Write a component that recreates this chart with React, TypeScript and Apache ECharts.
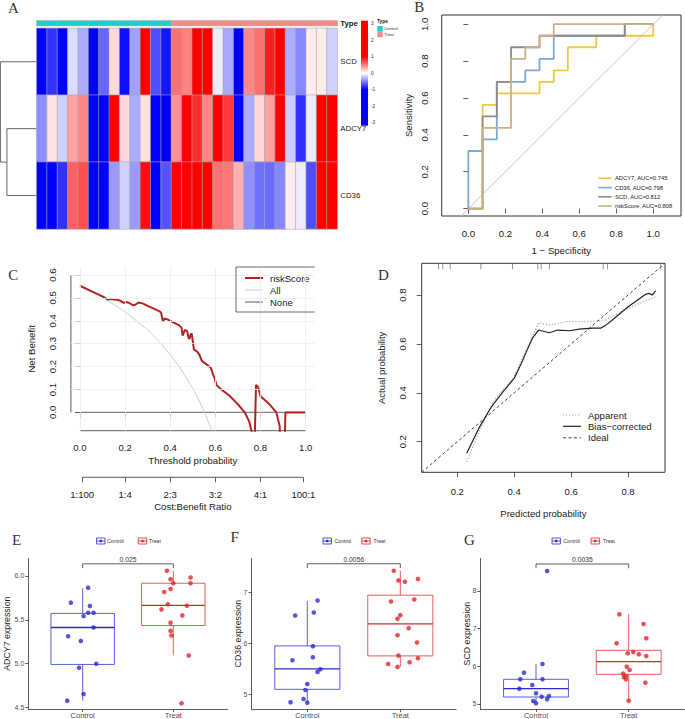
import React, { useEffect, useRef } from "react";
import * as echarts from "echarts";

// ---------------- Panel A : heatmap ----------------
const genes = ["SCD", "ADCY7", "CD36"];
const samples = [
  "C1", "C2", "C3", "C4", "C5", "C6", "C7", "C8", "C9", "C10", "C11", "C12", "C13",
  "T1", "T2", "T3", "T4", "T5", "T6", "T7", "T8", "T9", "T10", "T11", "T12", "T13", "T14", "T15", "T16",
];
const sampleType = [0, 0, 0, 0, 0, 0, 0, 0, 0, 0, 0, 0, 0, 1, 1, 1, 1, 1, 1, 1, 1, 1, 1, 1, 1, 1, 1, 1, 1];
const typeNames = ["Control", "Treat"];
const exprSCD = [-2.1, -0.8, -1.5, -0.14, -0.33, -2.0, -0.6, 0.15, -0.94, -0.37, 1.1, -0.69, -0.92,
  0.56, 0.5, 1.4, 1.6, -0.07, -0.34, -1.8, 0.47, 0.56, 0.88, 1.3, -0.33, -0.47, 0.07, 0.07, -0.18];
const exprADCY7 = [-0.44, 0.12, -0.18, 0.37, 0.47, -1.9, -1.6, 1.0, 0.15, -0.33, 0.12, -1.7, -1.5,
  0.43, 1.3, 0.82, 0.47, 1.4, 0.78, -1.6, -0.33, 0.15, 0.37, 1.2, -0.2, -0.81, -0.07, 1.5, 1.5];
const exprCD36 = [-2.0, -1.7, -0.81, 0.62, 0.69, -2.0, -1.7, -0.4, -0.18, -0.4, 0.95, -1.6, -0.67,
  1.5, 1.4, 1.4, 1.2, 0.56, 0.53, 0.31, -0.44, -0.56, -0.58, -0.47, 0.07, -0.07, -0.69, 1.5, 1.5];
const dendroHeights = [0.82, 1.0]; // (ADCY7,CD36) merge, root merge
const colorbarTicks = [3, 2, 1, 0, -1, -2, -3];

// ---------------- Panel B : ROC ----------------
const rocNames = ["ADCY7, AUC=0.745", "CD36, AUC=0.798", "SCD, AUC=0.812", "riskScore, AUC=0.808"];
const rocColors = ["#f2c93c", "#7ea6d8", "#8c8c8c", "#cdb07f"];
const rocADCY7Fpr = [0, 0.077, 0.077, 0.154, 0.154, 0.385, 0.385, 0.462, 0.462, 0.538, 0.538, 0.692, 0.692, 1, 1];
const rocADCY7Tpr = [0, 0, 0.5625, 0.5625, 0.625, 0.625, 0.6875, 0.6875, 0.75, 0.75, 0.875, 0.875, 0.9375, 0.9375, 1];
const rocCD36Fpr = [0, 0, 0.077, 0.077, 0.154, 0.154, 0.308, 0.308, 0.385, 0.385, 0.462, 0.462, 0.846, 0.846, 1];
const rocCD36Tpr = [0, 0.3125, 0.3125, 0.375, 0.375, 0.6875, 0.6875, 0.75, 0.75, 0.8125, 0.8125, 0.9375, 0.9375, 1, 1];
const rocSCDFpr = [0, 0.077, 0.077, 0.154, 0.154, 0.231, 0.231, 0.385, 0.385, 0.846, 0.846, 1];
const rocSCDTpr = [0, 0, 0.5, 0.5, 0.6875, 0.6875, 0.875, 0.875, 0.9375, 0.9375, 1, 1];
const rocRiskFpr = [0, 0.077, 0.077, 0.231, 0.231, 0.308, 0.308, 0.385, 0.385, 0.462, 0.462, 1];
const rocRiskTpr = [0, 0, 0.4375, 0.4375, 0.8125, 0.8125, 0.875, 0.875, 0.9375, 0.9375, 1, 1];
const rocDiag = [[-0.04, -0.04], [1.05, 1.05]];
const rocTicks = [0, 0.2, 0.4, 0.6, 0.8, 1];

// ---------------- Panel C : decision curve ----------------
const dcaRiskT = [0, 0.05, 0.1, 0.125, 0.135, 0.15, 0.165, 0.18, 0.195, 0.205, 0.22, 0.235, 0.245, 0.26, 0.28, 0.3,
  0.33, 0.355, 0.36, 0.368, 0.375, 0.39, 0.42, 0.44, 0.45, 0.455, 0.465, 0.475, 0.48, 0.485, 0.49, 0.495, 0.5,
  0.505, 0.52, 0.53, 0.54, 0.56, 0.58, 0.59, 0.595, 0.605, 0.62, 0.66, 0.7, 0.73, 0.75, 0.762, 0.765, 0.772,
  0.775, 0.78, 0.79, 0.8, 0.84, 0.87, 0.885, 0.89, 0.905, 0.91, 1.0];
const dcaRiskNB = [0.553, 0.53, 0.507, 0.493, 0.495, 0.493, 0.492, 0.487, 0.478, 0.482, 0.477, 0.468, 0.47, 0.48,
  0.475, 0.465, 0.452, 0.44, 0.434, 0.396, 0.41, 0.405, 0.39, 0.38, 0.37, 0.335, 0.36, 0.355, 0.33, 0.32, 0.34,
  0.345, 0.31, 0.275, 0.265, 0.25, 0.225, 0.21, 0.195, 0.165, 0.155, 0.12, 0.105, 0.075, 0.035, 0.0, -0.04,
  -0.09, -0.3, -0.3, -0.09, 0.12, 0.11, 0.07, 0.035, 0.0, -0.06, -0.3, -0.3, 0.0, 0.0];
const dcaAllT = [0, 0.1, 0.2, 0.3, 0.35, 0.4, 0.45, 0.5, 0.525, 0.55, 0.575, 0.6];
const dcaAllNB = [0.552, 0.502, 0.44, 0.36, 0.31, 0.252, 0.185, 0.104, 0.058, 0.004, -0.056, -0.12];
const dcaNoneT = [0, 1];
const dcaNoneNB = [0, 0];
const dcaXTicks = [0, 0.2, 0.4, 0.6, 0.8, 1];
const dcaYTicks = [0, 0.1, 0.2, 0.3, 0.4, 0.5, 0.6];
const dcaGridX = [0, 0.2, 0.4, 0.6, 0.8, 1];
const dcaGridY = [0.1, 0.2, 0.3, 0.4, 0.5, 0.6];
const cbTicks = [0.01, 0.2, 0.4, 0.6, 0.8, 0.99];
const cbLabels = ["1:100", "1:4", "2:3", "3:2", "4:1", "100:1"];
const dcaLegend = ["riskScore", "All", "None"];

// ---------------- Panel D : calibration ----------------
const calBiasX = [0.233, 0.279, 0.32, 0.361, 0.4, 0.425, 0.448, 0.466, 0.486, 0.495, 0.524, 0.553, 0.594, 0.629,
  0.675, 0.705, 0.722, 0.745, 0.798, 0.862, 0.874, 0.885, 0.897];
const calBiasY = [0.153, 0.262, 0.343, 0.405, 0.459, 0.52, 0.582, 0.627, 0.657, 0.654, 0.646, 0.657, 0.654, 0.661,
  0.665, 0.665, 0.677, 0.698, 0.75, 0.803, 0.807, 0.8, 0.817];
const calAppX = [0.233, 0.279, 0.326, 0.4, 0.448, 0.486, 0.524, 0.582, 0.675, 0.722, 0.798, 0.897];
const calAppY = [0.118, 0.248, 0.364, 0.466, 0.591, 0.687, 0.677, 0.691, 0.691, 0.698, 0.745, 0.793];
const calIdeal = [[0.075, 0.075], [0.93, 0.93]];
const calRug = [0.134, 0.149, 0.175, 0.283, 0.394, 0.483, 0.495, 0.524, 0.713, 0.728, 0.915];
const calTicks = [0.2, 0.4, 0.6, 0.8];
const calLegend = ["Apparent", "Bias\u2212corrected", "Ideal"];

// ---------------- Panels E, F, G : expression boxplots ----------------
const groupPos = [1, 2];
const adcy7Control = [[1.06, 5.866], [0.87, 5.695], [1.08, 5.656], [1.06, 5.58], [1.12, 5.58], [1.01, 5.542],
  [1.12, 5.412], [0.84, 5.313], [0.98, 5.26], [1.15, 5.0], [0.96, 4.954], [1.01, 4.656], [0.83, 4.58]];
const adcy7Treat = [[1.93, 6.057], [1.97, 5.962], [2.0, 5.916], [2.19, 5.981], [2.19, 5.916], [1.9, 5.817],
  [1.97, 5.851], [1.94, 5.676], [2.15, 5.66], [1.87, 5.618], [2.1, 5.55], [1.97, 5.466], [1.97, 5.374],
  [1.98, 5.321], [2.17, 5.095], [2.09, 4.55]];
const adcy7Box = [[4.58, 4.992, 5.412, 5.573, 5.859], [5.095, 5.435, 5.664, 5.916, 6.057]];
const cd36Control = [[1.11, 6.837], [0.87, 6.544], [1.07, 6.603], [1.06, 5.945], [1.06, 5.73], [0.84, 5.671],
  [1.14, 5.495], [1.11, 5.443], [1.0, 5.208], [0.98, 5.091], [0.82, 4.85], [0.96, 4.915], [1.0, 4.844]];
const cd36Treat = [[1.93, 7.417], [1.98, 7.228], [2.05, 7.202], [2.19, 7.254], [1.9, 6.818], [2.15, 6.857],
  [2.0, 6.551], [1.97, 6.479], [2.09, 6.297], [1.97, 6.16], [2.18, 6.016], [1.98, 5.762], [2.19, 5.71],
  [2.1, 5.632], [1.87, 5.6], [1.97, 5.541]];
const cd36Box = [[4.83, 5.104, 5.502, 5.951, 6.83], [5.54, 5.756, 6.381, 6.94, 7.417]];
const scdControl = [[1.12, 8.531], [0.87, 5.832], [1.07, 6.062], [0.83, 5.655], [1.07, 5.655], [0.96, 5.504],
  [0.82, 5.407], [1.0, 5.283], [1.14, 5.212], [1.06, 5.195], [1.12, 5.124], [0.97, 5.08], [1.0, 5.018]];
const scdTreat = [[1.9, 7.38], [2.16, 7.124], [2.19, 6.743], [1.87, 6.611], [1.99, 6.345], [2.05, 6.381],
  [2.11, 6.319], [2.19, 6.274], [1.98, 5.991], [2.01, 5.903], [1.94, 5.805], [1.97, 5.743], [1.95, 5.71],
  [1.97, 5.655], [2.18, 5.566], [2.0, 5.088]];
const scdBox = [[5.018, 5.186, 5.407, 5.655, 6.062], [5.09, 5.788, 6.124, 6.425, 7.38]];
const pValues = ["0.025", "0.0056", "0.0035"];
const bracketY = [6.137, 7.554, 8.717];
const exprTitles = ["ADCY7 expression", "CD36 expression", "SCD expression"];
const exprTicksE = [4.5, 5.0, 5.5, 6.0];
const exprTicksF = [5, 6, 7];
const exprTicksG = [5, 6, 7, 8];

// ---------------- style / layout ----------------
const W = 685;
const H = 719;
const SANS = "'Liberation Sans', Arial, Helvetica, sans-serif";
const SERIF = "'Liberation Serif', 'Times New Roman', serif";
const TXT = "#1a1a1a";
const GG = "#4d4d4d";
const ctrlColor = "#2a2ad0";
const treatColor = "#e02424";
const teal = "#22cccc";
const salmon = "#f28b84";
const GRID: Record<string, { left: number; top: number; width: number; height: number }> = {
  heat: { left: 36.7, top: 28.3, width: 300.6, height: 200.7 },
  annot: { left: 36.7, top: 20.7, width: 300.6, height: 5 },
  roc: { left: 441.7, top: 15, width: 239.3, height: 201 },
  dca: { left: 70.9, top: 267, width: 243.8, height: 163.7 },
  cal: { left: 421.7, top: 263.3, width: 243.3, height: 209 },
  e: { left: 28.3, top: 558.3, width: 199.4, height: 150.7 },
  f: { left: 251.5, top: 558.3, width: 204.6, height: 150.7 },
  g: { left: 480.4, top: 558.3, width: 203.9, height: 150.7 },
};

const f1 = (v: number) => v.toFixed(1);
const zip = (a: number[], b: number[]) => a.map((v, i) => [v, b[i]]);

function rAxis(o: any) {
  return {
    type: "value",
    axisLine: { show: false },
    splitLine: { show: false },
    nameLocation: "middle",
    nameMoveOverlap: false,
    nameTextStyle: { fontSize: 9.6, color: TXT, fontFamily: SANS },
    ...o,
    axisTick: { show: true, length: 5, lineStyle: { color: "#333", width: 0.8 }, ...(o.axisTick || {}) },
    axisLabel: { fontSize: 9.6, color: TXT, fontFamily: SANS, ...(o.axisLabel || {}) },
  };
}

function ggAxis(o: any) {
  return {
    type: "value",
    axisLine: { show: true, lineStyle: { color: "#333", width: 0.8 } },
    splitLine: { show: false },
    nameLocation: "middle",
    nameMoveOverlap: false,
    nameTextStyle: { fontSize: 8.8, color: TXT, fontFamily: SANS },
    ...o,
    axisTick: { show: true, length: 3, lineStyle: { color: "#333", width: 0.8 }, ...(o.axisTick || {}) },
    axisLabel: { fontSize: 7, color: GG, fontFamily: SANS, margin: 4, ...(o.axisLabel || {}) },
  };
}

function renderBox(params: any, api: any) {
  const x = api.value(0);
  const lo = api.value(1), q1 = api.value(2), med = api.value(3), q3 = api.value(4), hi = api.value(5);
  const hw = 0.35;
  const tl = api.coord([x - hw, q3]);
  const br = api.coord([x + hw, q1]);
  const ml = api.coord([x - hw, med]);
  const mr = api.coord([x + hw, med]);
  const pHi = api.coord([x, hi]);
  const pLo = api.coord([x, lo]);
  const c = params.dataIndex === 0 ? ctrlColor : treatColor;
  const thin = { stroke: c, lineWidth: 1, opacity: 0.75, fill: "none" };
  return {
    type: "group",
    children: [
      { type: "line", shape: { x1: pHi[0], y1: pHi[1], x2: pHi[0], y2: tl[1] }, style: thin },
      { type: "line", shape: { x1: pLo[0], y1: pLo[1], x2: pLo[0], y2: br[1] }, style: thin },
      { type: "rect", shape: { x: tl[0], y: tl[1], width: br[0] - tl[0], height: br[1] - tl[1] }, style: thin },
      { type: "line", shape: { x1: ml[0], y1: ml[1], x2: mr[0], y2: mr[1] }, style: { stroke: c, lineWidth: 1.4 } },
    ],
  };
}

function makeBracket(label: string) {
  return (params: any, api: any) => {
    const a = api.coord([api.value(0), api.value(2)]);
    const b = api.coord([api.value(1), api.value(2)]);
    const drop = 4.3;
    return {
      type: "group",
      children: [
        {
          type: "polyline",
          shape: { points: [[a[0], a[1] + drop], [a[0], a[1]], [b[0], b[1]], [b[0], b[1] + drop]] },
          style: { stroke: "#333", lineWidth: 0.8, fill: "none" },
        },
        {
          type: "text",
          x: (a[0] + b[0]) / 2,
          y: a[1] - 1.2,
          style: { text: label, fontSize: 6.8, fontFamily: SANS, fill: "#333", align: "center", verticalAlign: "bottom" },
        },
      ],
    };
  };
}

function exprSeries(xi: number, yi: number, box: number[][], ctrl: number[][], treat: number[][], by: number, label: string) {
  return [
    {
      type: "custom", xAxisIndex: xi, yAxisIndex: yi, silent: true,
      encode: { x: 0, y: [1, 2, 3, 4, 5] },
      data: box.map((b, i) => [groupPos[i], ...b]),
      renderItem: renderBox,
    },
    { type: "scatter", xAxisIndex: xi, yAxisIndex: yi, silent: true, data: ctrl, symbolSize: 4.6, itemStyle: { color: ctrlColor } },
    { type: "scatter", xAxisIndex: xi, yAxisIndex: yi, silent: true, data: treat, symbolSize: 4.6, itemStyle: { color: treatColor } },
    {
      type: "custom", xAxisIndex: xi, yAxisIndex: yi, silent: true,
      encode: { x: [0, 1], y: 2 },
      data: [[groupPos[0], groupPos[1], by]],
      renderItem: makeBracket(label),
    },
  ];
}

function lineS(xi: number, yi: number, data: number[][], color: string, width: number, type: any = "solid", extra: any = {}) {
  return {
    type: "line", xAxisIndex: xi, yAxisIndex: yi, data, showSymbol: false, symbol: "none", silent: true,
    lineStyle: { color, width, type }, itemStyle: { color }, emphasis: { disabled: true }, clip: true, ...extra,
  };
}

function buildOption() {
  const heatData: number[][] = [];
  [exprSCD, exprADCY7, exprCD36].forEach((row, r) => row.forEach((v, c) => heatData.push([c, r, v])));
  const annotData = sampleType.map((t, i) => [i, 0, t]);
  const grids = Object.values(GRID).map((g) => ({ ...g, outerBoundsMode: "none", containLabel: false }));
  (grids[2] as any).show = true; (grids[2] as any).borderColor = "#333"; (grids[2] as any).borderWidth = 1;
  (grids[4] as any).show = true; (grids[4] as any).borderColor = "#333"; (grids[4] as any).borderWidth = 1;

  const catLabel = (v: number) => typeNames[Math.round(v) - 1];
  const cbFmt = (v: number) => {
    const i = cbTicks.findIndex((t) => Math.abs(t - v) < 1e-6);
    return i >= 0 ? cbLabels[i] : "";
  };
  const catX = (gi: number) => ggAxis({
    gridIndex: gi, min: 0.4, max: 2.6,
    axisTick: { customValues: groupPos },
    axisLabel: { customValues: groupPos, formatter: catLabel, fontSize: 7.5, margin: 2 },
  });

  return {
    animation: false,
    textStyle: { fontFamily: SANS },
    grid: grids,
    visualMap: [
      {
        type: "continuous", seriesIndex: 0, dimension: 2, min: -3, max: 3, show: false,
        inRange: { color: ["#0000ff", "#0000ff", "#0000ff", "#ffffff", "#ff0000", "#ff0000", "#ff0000"] },
      },
      {
        type: "piecewise", seriesIndex: 1, dimension: 2, show: false,
        pieces: [{ value: 0, color: teal }, { value: 1, color: salmon }],
      },
    ],
    xAxis: [
      { gridIndex: 0, type: "category", data: samples, show: false },
      { gridIndex: 1, type: "category", data: samples, show: false },
      rAxis({
        gridIndex: 2, min: -0.144, max: 1.15, name: "1 \u2212 Specificity", nameGap: 29,
        axisTick: { customValues: rocTicks }, axisLabel: { customValues: rocTicks, formatter: f1, margin: 12 },
      }),
      rAxis({
        gridIndex: 3, min: -0.04, max: 1.04, name: "Threshold probability", nameGap: 25,
        axisTick: { customValues: dcaXTicks }, axisLabel: { customValues: dcaXTicks, formatter: f1, margin: 12 },
      }),
      rAxis({
        gridIndex: 3, min: -0.04, max: 1.04, position: "bottom", offset: 46.6, name: "Cost:Benefit Ratio", nameGap: 24,
        axisTick: { customValues: cbTicks }, axisLabel: { customValues: cbTicks, formatter: cbFmt, margin: 12 },
      }),
      rAxis({
        gridIndex: 4, min: 0.075, max: 0.93, name: "Predicted probability", nameGap: 36,
        nameTextStyle: { fontSize: 9.5, color: TXT, fontFamily: SANS },
        axisTick: { customValues: calTicks }, axisLabel: { customValues: calTicks, formatter: f1, margin: 14, fontSize: 9.5 },
      }),
      catX(5),
      catX(6),
      catX(7),
    ],
    yAxis: [
      {
        gridIndex: 0, type: "category", data: genes, inverse: true, position: "right",
        axisLine: { show: false }, axisTick: { show: false }, splitLine: { show: false },
        axisLabel: { fontSize: 7.8, color: TXT, margin: 3, fontFamily: SANS },
      },
      {
        gridIndex: 1, type: "category", data: ["Type"], position: "right",
        axisLine: { show: false }, axisTick: { show: false }, splitLine: { show: false },
        axisLabel: { fontSize: 7.8, color: TXT, margin: 3, fontWeight: "bold", fontFamily: SANS },
      },
      rAxis({
        gridIndex: 2, min: -0.04, max: 1.05, name: "Sensitivity", nameGap: 28.7,
        axisTick: { customValues: rocTicks }, axisLabel: { customValues: rocTicks, formatter: f1, rotate: 90, margin: 12.7 },
      }),
      rAxis({
        gridIndex: 3, min: -0.08, max: 0.635, name: "Net Benefit", nameGap: 34,
        axisTick: { customValues: dcaYTicks }, axisLabel: { customValues: dcaYTicks, formatter: f1, rotate: 90, margin: 13 },
      }),
      rAxis({
        gridIndex: 4, min: 0.075, max: 0.93, name: "Actual probability", nameGap: 35,
        nameTextStyle: { fontSize: 9.5, color: TXT, fontFamily: SANS },
        axisTick: { customValues: calTicks }, axisLabel: { customValues: calTicks, formatter: f1, rotate: 90, margin: 14, fontSize: 9.5 },
      }),
      ggAxis({ gridIndex: 5, min: 4.485, max: 6.2, name: exprTitles[0], nameGap: 17, axisTick: { customValues: exprTicksE }, axisLabel: { customValues: exprTicksE, formatter: f1 } }),
      ggAxis({ gridIndex: 6, min: 4.72, max: 7.66, name: exprTitles[1], nameGap: 9.5, axisTick: { customValues: exprTicksF }, axisLabel: { customValues: exprTicksF, formatter: (v: number) => String(v) } }),
      ggAxis({ gridIndex: 7, min: 4.867, max: 8.868, name: exprTitles[2], nameGap: 8.7, axisTick: { customValues: exprTicksG }, axisLabel: { customValues: exprTicksG, formatter: (v: number) => String(v) } }),
    ],
    series: [
      {
        type: "heatmap", xAxisIndex: 0, yAxisIndex: 0, data: heatData, silent: true,
        itemStyle: { borderColor: "#a8a8a8", borderWidth: 0.6 }, emphasis: { disabled: true },
      },
      {
        type: "heatmap", xAxisIndex: 1, yAxisIndex: 1, data: annotData, silent: true,
        itemStyle: { borderColor: "#b0b0b0", borderWidth: 0.5 }, emphasis: { disabled: true },
      },
      // ROC
      lineS(2, 2, rocDiag, "#c8c8c8", 1),
      lineS(2, 2, zip(rocADCY7Fpr, rocADCY7Tpr), rocColors[0], 1.8),
      lineS(2, 2, zip(rocCD36Fpr, rocCD36Tpr), rocColors[1], 1.8),
      lineS(2, 2, zip(rocSCDFpr, rocSCDTpr), rocColors[2], 1.8),
      lineS(2, 2, zip(rocRiskFpr, rocRiskTpr), rocColors[3], 1.8),
      // DCA
      lineS(3, 3, zip(dcaNoneT, dcaNoneNB), "#808080", 1.3, "solid", {
        markLine: {
          silent: true, symbol: ["none", "none"], label: { show: false }, animation: false,
          lineStyle: { color: "#ececec", width: 0.8, type: "solid" },
          emphasis: { disabled: true },
          data: [...dcaGridX.map((v) => ({ xAxis: v })), ...dcaGridY.map((v) => ({ yAxis: v }))],
        },
      }),
      lineS(3, 3, zip(dcaAllT, dcaAllNB), "#cccccc", 1),
      lineS(3, 3, zip(dcaRiskT, dcaRiskNB), "#b22222", 2),
      // Calibration
      lineS(5, 4, calIdeal, "#444", 1, [3, 2.5]),
      lineS(5, 4, zip(calAppX, calAppY), "#a8a8a8", 1.2, [1.2, 1.8]),
      lineS(5, 4, zip(calBiasX, calBiasY), "#222", 1.2),
      {
        type: "custom", xAxisIndex: 5, yAxisIndex: 4, silent: true, encode: { x: 0 },
        data: calRug.map((v) => [v]),
        renderItem: (params: any, api: any) => {
          const p = api.coord([api.value(0), 0.5]);
          const cs = params.coordSys;
          return { type: "line", shape: { x1: p[0], y1: cs.y, x2: p[0], y2: cs.y + 6 }, style: { stroke: "#777", lineWidth: 0.8 } };
        },
      },
      ...exprSeries(6, 5, adcy7Box, adcy7Control, adcy7Treat, bracketY[0], pValues[0]),
      ...exprSeries(7, 6, cd36Box, cd36Control, cd36Treat, bracketY[1], pValues[1]),
      ...exprSeries(8, 7, scdBox, scdControl, scdTreat, bracketY[2], pValues[2]),
    ],
  };
}

function buildGraphics(chart: any) {
  const els: any[] = [];
  const txt = (x: number, y: number, text: string, fs: number, o: any = {}) => ({
    type: "text", x, y, silent: true,
    style: { text, fontSize: fs, fontFamily: SANS, fill: TXT, align: "left", verticalAlign: "middle", ...o },
  });
  const ln = (x1: number, y1: number, x2: number, y2: number, stroke: string, lw: number, dash?: number[]) => {
    const style: any = { stroke, lineWidth: lw };
    if (dash) style.lineDash = dash;
    return { type: "line", silent: true, shape: { x1, y1, x2, y2 }, style };
  };
  const poly = (points: number[][], stroke: string, lw: number) => ({
    type: "polyline", silent: true, shape: { points }, style: { stroke, lineWidth: lw, fill: "none" },
  });

  // panel letters
  const letters: [string, number, number][] = [["A", 13.3, 7.5], ["B", 419.3, 6.5], ["C", 13.3, 275], ["D", 383.3, 275],
    ["E", 16.7, 540], ["F", 234.7, 537], ["G", 469.3, 540]];
  letters.forEach(([t, x, y]) => els.push(txt(x, y, t, 15, { fontFamily: SERIF, align: "center", fill: "#333" })));

  // dendrogram (row positions from the heatmap axis)
  const rowY = genes.map((_, r) => (chart.convertToPixel({ gridIndex: 0 }, [0, r]) as number[])[1]);
  const x0 = GRID.heat.left;
  const scale = GRID.heat.left - 0.4;
  const m1x = x0 - dendroHeights[0] * scale;
  const m1y = (rowY[1] + rowY[2]) / 2;
  const rx = x0 - dendroHeights[1] * scale;
  els.push(poly([[x0, rowY[1]], [m1x, rowY[1]], [m1x, rowY[2]], [x0, rowY[2]]], "#666", 1));
  els.push(poly([[x0, rowY[0]], [rx, rowY[0]], [rx, m1y], [m1x, m1y]], "#666", 1));

  // colour bar
  const cbTop = 20.7, cbH = 105, cbX = 361, cbW = 7, cbMax = 3.2, cbRange = 6.4;
  const off = (v: number) => (cbMax - v) / cbRange;
  els.push({
    type: "rect", silent: true, shape: { x: cbX, y: cbTop, width: cbW, height: cbH },
    style: {
      fill: new echarts.graphic.LinearGradient(0, 0, 0, 1, [
        { offset: 0, color: "#ff0000" }, { offset: off(1), color: "#ff0000" }, { offset: off(0), color: "#ffffff" },
        { offset: off(-1), color: "#0000ff" }, { offset: 1, color: "#0000ff" },
      ]),
    },
  });
  colorbarTicks.forEach((v) => els.push(txt(cbX + cbW + 3, cbTop + off(v) * cbH, String(v), 4.8, { fill: "#333" })));

  // annotation legend
  els.push(txt(377, 21.8, "Type", 4.8, { fontWeight: "bold" }));
  els.push({ type: "rect", silent: true, shape: { x: 377.3, y: 26, width: 5.4, height: 5.6 }, style: { fill: teal } });
  els.push({ type: "rect", silent: true, shape: { x: 377.3, y: 31.6, width: 5.4, height: 5.6 }, style: { fill: salmon } });
  els.push(txt(384, 28.8, typeNames[0], 4.3, { fill: "#333" }));
  els.push(txt(384, 34.4, typeNames[1], 4.3, { fill: "#333" }));

  // ROC legend
  const rocLegY = [178.3, 187.6, 196.8, 206];
  rocNames.forEach((n, i) => {
    els.push(ln(598.3, rocLegY[i], 611.7, rocLegY[i], rocColors[i], 1.6));
    els.push(txt(615, rocLegY[i], n, 5.8));
  });

  // DCA axis lines
  const g = GRID.dca;
  const bottom = g.top + g.height;
  const px0 = (chart.convertToPixel({ gridIndex: 3 }, [0, 0]) as number[]);
  const px1 = (chart.convertToPixel({ gridIndex: 3 }, [1, 0.6]) as number[]);
  els.push(ln(px0[0], bottom, px1[0], bottom, "#333", 0.8));
  els.push(ln(g.left, px0[1], g.left, px1[1], "#333", 0.8));
  const c0 = (chart.convertToPixel({ gridIndex: 3 }, [cbTicks[0], 0]) as number[])[0];
  const c1 = (chart.convertToPixel({ gridIndex: 3 }, [cbTicks[cbTicks.length - 1], 0]) as number[])[0];
  els.push(ln(c0, bottom + 46.6, c1, bottom + 46.6, "#333", 0.8));
  // DCA legend
  const lgR = g.left + g.width;
  els.push({ ...poly([[lgR, g.top], [236, g.top], [236, 312], [lgR, 312]], "#444", 0.8), z: 10 });
  const dcaCols = ["#b22222", "#cccccc", "#808080"];
  const dcaW = [2, 1, 1.3];
  const dcaLy = [278, 290, 302];
  dcaLegend.forEach((n, i) => {
    els.push(ln(245, dcaLy[i], 263, dcaLy[i], dcaCols[i], dcaW[i]));
    els.push(txt(270, dcaLy[i], n, 9.5));
  });

  // Calibration legend
  const calLy = [415, 426.3, 437.8];
  const calStyles: [string, number, number[] | undefined][] = [["#a8a8a8", 1.2, [1.2, 1.8]], ["#222", 1.2, undefined], ["#444", 1, [3, 2.5]]];
  calLegend.forEach((n, i) => {
    els.push(ln(563, calLy[i], 581, calLy[i], calStyles[i][0], calStyles[i][1], calStyles[i][2]));
    els.push(txt(588, calLy[i], n, 9.5));
  });

  // boxplot legends
  const legIcon = (cx: number, cy: number, color: string) => [
    { type: "rect", silent: true, shape: { x: cx - 4.2, y: cy - 3, width: 8.4, height: 6 }, style: { fill: "none", stroke: color, lineWidth: 0.8 } },
    ln(cx - 4.2, cy, cx + 4.2, cy, color, 0.8),
    { type: "circle", silent: true, shape: { cx, cy, r: 1.3 }, style: { fill: color } },
  ];
  const legs: [number, number, number, number][] = [
    [100.8, 107, 142.5, 149], [327.2, 334.5, 366, 373.5], [556.2, 563.3, 595.2, 603],
  ];
  legs.forEach(([ci, ct, ti, tt]) => {
    els.push(...legIcon(ci, 541, ctrlColor));
    els.push(txt(ct, 541, typeNames[0], 5.2, { fill: "#333" }));
    els.push(...legIcon(ti, 541, treatColor));
    els.push(txt(tt, 541, typeNames[1], 5.2, { fill: "#333" }));
  });
  return els;
}

export default function App() {
  const ref = useRef<HTMLDivElement>(null);
  useEffect(() => {
    if (!ref.current) return;
    const chart = echarts.init(ref.current, undefined, { renderer: "svg", width: W, height: H });
    chart.setOption(buildOption() as any);
    chart.setOption({ graphic: { elements: buildGraphics(chart) } } as any);
    return () => chart.dispose();
  }, []);
  return <div ref={ref} style={{ position: "absolute", left: 0, top: 0, width: W, height: H, background: "#fff" }} />;
}
